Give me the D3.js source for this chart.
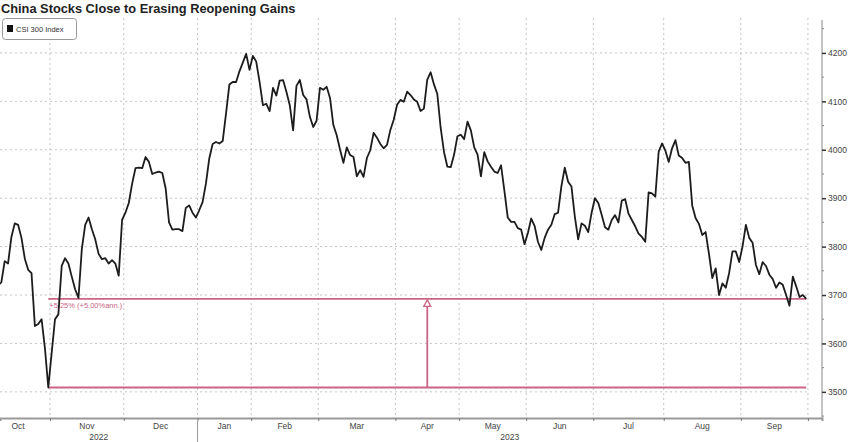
<!DOCTYPE html>
<html>
<head>
<meta charset="utf-8">
<script src="https://cdn.jsdelivr.net/npm/d3@7"></script>
<style>
  body { margin: 0; background: #fff; }
  svg { font-family: "Liberation Sans", Arial, sans-serif; }
</style>
</head>
<body>
<div id="chart-area"></div>
<script>
// CSI 300 daily closes, one per trading day, Oct 10 2022 .. Sep 28 2023
const closes = [
  3720, 3726, 3770, 3765, 3820, 3848, 3845, 3818, 3775, 3752,
  3745, 3636, 3640, 3650, 3590, 3509, 3580, 3650, 3660, 3760,
  3776, 3765, 3738, 3712, 3694, 3795, 3845, 3860, 3836, 3815,
  3785, 3774, 3776, 3765, 3772, 3765, 3740, 3855, 3870, 3890,
  3930, 3962, 3963, 3962, 3985, 3975, 3950, 3953, 3955, 3952,
  3920, 3850, 3835, 3836, 3836, 3832, 3880, 3885, 3870, 3860,
  3875, 3892, 3930, 3982, 4012, 4016, 4013, 4018, 4075, 4135,
  4140, 4140, 4162, 4180, 4198, 4165, 4194, 4182, 4140, 4092,
  4095, 4080, 4128, 4112, 4143, 4144, 4120, 4092, 4040, 4132,
  4144, 4113, 4104, 4068, 4047, 4060, 4128, 4124, 4130, 4107,
  4051, 4030, 4000, 3973, 4005, 3989, 3985, 3945, 3958, 3944,
  3983, 3999, 4035, 4025, 4012, 4003, 4010, 4041, 4062, 4093,
  4103, 4099, 4120, 4113, 4104, 4099, 4080, 4085, 4145, 4160,
  4135, 4115, 4045, 3995, 3965, 3964, 3990, 4028, 4031, 4022,
  4058, 4040, 4005, 3990, 3945, 3995, 3976, 3965, 3955, 3952,
  3968, 3915, 3860, 3851, 3851, 3838, 3835, 3805, 3828, 3858,
  3843, 3810, 3793, 3818, 3835, 3845, 3867, 3870, 3925, 3963,
  3934, 3924, 3862, 3815, 3848, 3843, 3830, 3870, 3900, 3890,
  3866, 3840, 3835, 3855, 3865, 3850, 3895, 3898, 3868, 3855,
  3842, 3827, 3820, 3810, 3912, 3910, 3903, 3996, 4013, 3998,
  3975, 4003, 4020, 3988, 3983, 3973, 3975, 3885, 3859, 3847,
  3824, 3830, 3785, 3735, 3755, 3700, 3724, 3715, 3745, 3790,
  3790, 3768, 3800, 3845, 3818, 3808, 3762, 3743, 3768, 3760,
  3742, 3733, 3715, 3726, 3721, 3700, 3678, 3738, 3718, 3696,
  3700, 3692
];

// month labels and index of each month's first trading day (last entry = Oct 2023)
const months = ["Oct", "Nov", "Dec", "Jan", "Feb", "Mar", "Apr", "May", "Jun", "Jul", "Aug", "Sep"];
const monthStarts = [-3, 16, 38, 60, 76, 96, 119, 138, 158, 178, 199, 222, 242];
const years = ["2022", "2023"];
const yTicks = [3500, 3600, 3700, 3800, 3900, 4000, 4100, 4200];
const yMinor = [3450, 3550, 3650, 3750, 3850, 3950, 4050, 4150, 4250];

const width = 848, height = 442;
const plot = { left: 0, right: 822, top: 20, bottom: 418 };

const x = d3.scaleLinear()
  .domain([0.6, 245.7])
  .range([plot.left, plot.right]);

const y = d3.scaleLinear()
  .domain([3446, 4268])
  .range([plot.bottom, plot.top]);

const svg = d3.select("#chart-area")
  .append("svg")
  .attr("width", width)
  .attr("height", height);

svg.append("defs")
  .append("clipPath")
  .attr("id", "clip")
  .append("rect")
  .attr("x", plot.left)
  .attr("y", plot.top)
  .attr("width", plot.right - plot.left)
  .attr("height", plot.bottom - plot.top);

const tickIdx = monthStarts.slice(1).map(d => d - 0.5);
const gridRight = x(tickIdx[tickIdx.length - 1]);

// grid
svg.append("g")
  .selectAll("line")
  .data(yTicks)
  .join("line")
  .attr("x1", plot.left)
  .attr("x2", gridRight)
  .attr("y1", d => y(d))
  .attr("y2", d => y(d))
  .attr("stroke", "#c4c4c4")
  .attr("stroke-dasharray", "2,3");

svg.append("g")
  .selectAll("line")
  .data(tickIdx)
  .join("line")
  .attr("x1", d => x(d))
  .attr("x2", d => x(d))
  .attr("y1", plot.top - 2)
  .attr("y2", plot.bottom)
  .attr("stroke", "#c4c4c4")
  .attr("stroke-dasharray", "2,3");

// x axis
const xAxis = d3.axisBottom(x)
  .tickValues(tickIdx)
  .tickSize(3)
  .tickFormat("");

const gx = svg.append("g")
  .attr("transform", "translate(0," + plot.bottom + ")")
  .call(xAxis);
gx.select(".domain").attr("stroke", "#9a9a9a").attr("stroke-width", 2);
gx.selectAll(".tick line").attr("stroke", "#777");

svg.append("g")
  .selectAll("text")
  .data(months)
  .join("text")
  .attr("x", (d, i) => (x(monthStarts[i] - 0.5) + x(monthStarts[i + 1] - 0.5)) / 2)
  .attr("y", 428.5)
  .attr("text-anchor", "middle")
  .attr("font-size", "8.5px")
  .attr("fill", "#444")
  .text(d => d);

const yearSplit = x(monthStarts[3] - 0.5);
const yearSpans = [[plot.left, yearSplit], [yearSplit, plot.right]];
svg.append("g")
  .selectAll("text")
  .data(years)
  .join("text")
  .attr("x", (d, i) => (yearSpans[i][0] + yearSpans[i][1]) / 2)
  .attr("y", 440)
  .attr("text-anchor", "middle")
  .attr("font-size", "8.5px")
  .attr("fill", "#444")
  .text(d => d);

svg.append("line")
  .attr("x1", yearSplit)
  .attr("x2", yearSplit)
  .attr("y1", plot.bottom + 3)
  .attr("y2", height)
  .attr("stroke", "#999");

// y axis
const yAxis = d3.axisRight(y)
  .tickValues(yTicks)
  .tickSize(4)
  .tickPadding(2)
  .tickFormat(d3.format("d"));

const gy = svg.append("g")
  .attr("transform", "translate(" + plot.right + ",0)")
  .call(yAxis);
gy.select(".domain").attr("stroke", "#888").attr("d", "M0," + plot.top + "V" + plot.bottom);
gy.selectAll(".tick line").attr("stroke", "#333").attr("stroke-width", 1.5);
gy.selectAll(".tick text").attr("font-size", "8.5px").attr("fill", "#444").attr("font-family", "Liberation Sans, Arial, sans-serif");

svg.append("g")
  .selectAll("line")
  .data(yMinor)
  .join("line")
  .attr("x1", plot.right)
  .attr("x2", plot.right + 2)
  .attr("y1", d => y(d))
  .attr("y2", d => y(d))
  .attr("stroke", "#888");

// change annotation: low to latest close
const lowIdx = closes.indexOf(d3.min(closes));
const lastIdx = closes.length - 1;
const lowVal = closes[lowIdx];
const lastVal = closes[lastIdx];
const midIdx = (lowIdx + lastIdx) / 2;
const pink = "#cc6585";

const ann = svg.append("g");
[lowVal, lastVal].forEach(v => {
  ann.append("line")
    .attr("x1", x(lowIdx))
    .attr("x2", x(lastIdx))
    .attr("y1", y(v))
    .attr("y2", y(v))
    .attr("stroke", pink)
    .attr("stroke-width", 1.8);
});

ann.append("line")
  .attr("x1", x(midIdx))
  .attr("x2", x(midIdx))
  .attr("y1", y(lowVal))
  .attr("y2", y(lastVal) + 7)
  .attr("stroke", pink)
  .attr("stroke-width", 1.8);

ann.append("path")
  .attr("d", "M" + x(midIdx) + "," + (y(lastVal) + 1) +
    "l3.5,6.5h-7z")
  .attr("fill", "#fff")
  .attr("stroke", pink)
  .attr("stroke-width", 1.3);

ann.append("text")
  .attr("x", x(lowIdx) + 1)
  .attr("y", y(lastVal) + 9)
  .attr("font-size", "7.5px")
  .attr("fill", pink)
  .text("+5.25% (+5.00%ann.)");

// price line
const line = d3.line()
  .x((d, i) => x(i))
  .y(d => y(d));

svg.append("path")
  .datum(closes)
  .attr("clip-path", "url(#clip)")
  .attr("fill", "none")
  .attr("stroke", "#1c1c1c")
  .attr("stroke-width", 1.8)
  .attr("stroke-linejoin", "round")
  .attr("d", line);

// title and legend
svg.append("text")
  .attr("x", 1)
  .attr("y", 12.5)
  .attr("font-size", "12.8px")
  .attr("font-weight", "bold")
  .attr("fill", "#222")
  .text("China Stocks Close to Erasing Reopening Gains");

const legend = svg.append("g");
legend.append("rect")
  .attr("x", 2.5)
  .attr("y", 18.5)
  .attr("width", 74)
  .attr("height", 21)
  .attr("rx", 3)
  .attr("fill", "#fff")
  .attr("stroke", "#999");
legend.append("rect")
  .attr("x", 7)
  .attr("y", 25)
  .attr("width", 6)
  .attr("height", 7)
  .attr("fill", "#111");
legend.append("text")
  .attr("x", 16)
  .attr("y", 32)
  .attr("font-size", "7.5px")
  .attr("fill", "#333")
  .text("CSI 300 Index");
</script>
</body>
</html>
